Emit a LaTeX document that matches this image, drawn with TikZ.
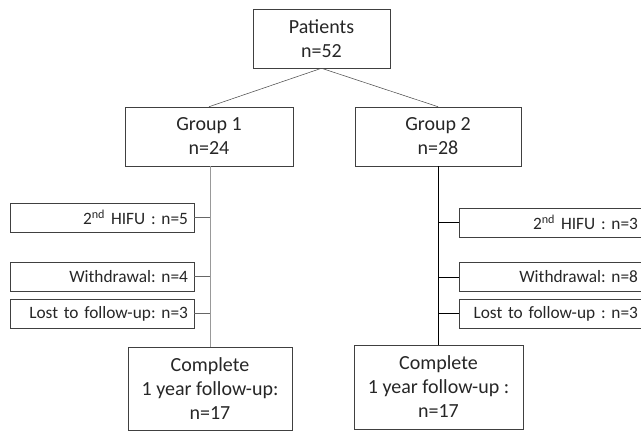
\documentclass[tikz,border=0pt]{standalone}
\usepackage{fontspec}
\setmainfont{Carlito}
\frenchspacing
\usepackage{tikz}

\begin{document}
\begin{tikzpicture}[x=0.75pt,y=-0.75pt,
    box/.style={draw=black!75, text=black!85, align=center, font=\fontsize{15}{18}\selectfont, inner sep=0pt},
    side/.style={draw=black!75, text=black!85, align=right, font=\fontsize{13}{16}\selectfont,
        minimum height=29*0.75pt, inner ysep=0pt, inner xsep=6*0.75pt}]
    \useasboundingbox (0,0) rectangle (641,431);

    \node[box, minimum width=137*0.75pt, minimum height=59*0.75pt](0) at (321.5,38.5) {Patients\\n=52};
    \node[box, minimum width=168*0.75pt, minimum height=59*0.75pt](1) at (209,136.5) {Group 1\\n=24};
    \node[box, minimum width=166*0.75pt, minimum height=59*0.75pt](2) at (438,136.5) {Group 2\\n=28};
    \node[box, minimum width=164*0.75pt, minimum height=83*0.75pt](1e) at (210,388.5) {Complete\\1 year follow-up:\\n=17};
    \node[box, minimum width=169*0.75pt, minimum height=84*0.75pt](2e) at (438.5,387) {Complete\\1 year follow-up :\\n=17};

    \node[side, text width=172*0.75pt](1a) at (102,217.5) {2\textsuperscript{nd} HIFU : n=5};
    \node[side, text width=172*0.75pt](1b) at (102,276.5) {Withdrawal: n=4};
    \node[side, text width=172*0.75pt](1c) at (102,313.5) {Lost to follow-up: n=3};
    \node[side, text width=173*0.75pt](2a) at (551.5,222.5) {2\textsuperscript{nd} HIFU : n=3};
    \node[side, text width=173*0.75pt](2b) at (551.5,277) {Withdrawal: n=8};
    \node[side, text width=173*0.75pt](2c) at (551.5,313.5) {Lost to follow-up : n=3};

    \draw[black!70] (0.south)--(1.north);
    \draw[black!70] (0.south)--(2.north);
    \draw[black!40] (1.south -| 1e.north)--(1e.north);
    \draw[black] (2.south)--(2e.north -| 2.south);
    \foreach \k in {1a, 1b, 1c}{\draw[black!60](\k.east)--(\k.east -| 1e.north);}
    \foreach \k in {2a, 2b, 2c}{\draw(\k.west)--(\k.west -| 2.south);}
\end{tikzpicture}
\end{document}
